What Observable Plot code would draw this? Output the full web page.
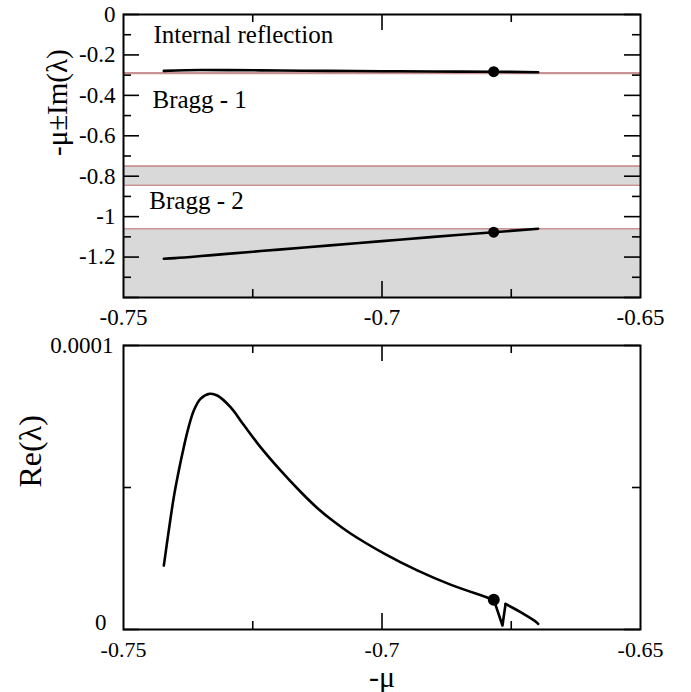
<!DOCTYPE html>
<html>
<head>
<meta charset="utf-8">
<script src="https://cdn.jsdelivr.net/npm/d3@7"></script>
<script src="https://cdn.jsdelivr.net/npm/@observablehq/plot@0.6"></script>
<style>
  body { margin: 0; background: #fff; }
  #wrap { position: relative; width: 691px; height: 692px; }
  #topPanel, #botPanel { position: absolute; left: 0; }
  #topPanel { top: 0; }
  #botPanel { top: 330px; }
  svg { display: block; }
  svg text { font-family: "Liberation Serif", serif; font-variant-numeric: normal; }
</style>
</head>
<body>
<div id="wrap"><div id="topPanel"></div><div id="botPanel"></div></div>
<script>
// ---- data ----
const xDomain = [-0.75, -0.65];
const xLabelTicks = [-0.75, -0.7, -0.65];
const xMidTicks = [-0.7];
const xMinorTicks = [-0.725, -0.675];

const yTopDomain = [-1.4, 0];
const yTopLabelTicks = [0, -0.2, -0.4, -0.6, -0.8, -1, -1.2];
const yTopMajorTicks = [0, -0.2, -0.4, -0.6, -0.8, -1, -1.2, -1.4];
const yTopMinorTicks = [-0.1, -0.3, -0.5, -0.7, -0.9, -1.1, -1.3];

// gray bands [top, bottom]
const bandTops = [-0.288, -0.75, -1.06];
const bandBottoms = [-0.292, -0.845, -1.4];

// upper branch of -mu + Im(lambda)
const branch1X = [-0.7422, -0.7380, -0.7350, -0.7300, -0.7200, -0.7100, -0.7000, -0.6900, -0.6784, -0.6698];
const branch1Y = [-0.279, -0.2755, -0.2745, -0.275, -0.277, -0.279, -0.2805, -0.282, -0.283, -0.2855];
// lower branch of -mu - Im(lambda)
const branch2X = [-0.7422, -0.7400, -0.7350, -0.7300, -0.7200, -0.7100, -0.7000, -0.6900, -0.6784, -0.6698];
const branch2Y = [-1.208, -1.205, -1.195, -1.184, -1.163, -1.142, -1.121, -1.100, -1.077, -1.060];

const markX = [-0.6784, -0.6784];
const markY = [-0.283, -1.077];

const labelTexts = ["Internal reflection", "Bragg - 1", "Bragg - 2"];
const labelX = [-0.7442, -0.7444, -0.745];
const labelY = [-0.102, -0.425, -0.921];

// bottom panel: Re(lambda)
const yBotDomain = [0, 0.0001];
const yBotLabelTicks = [0, 0.0001];
const yBotMinorTicks = [0.00005];

const reX = [-0.7422, -0.74124, -0.74027, -0.7393, -0.73834, -0.73737, -0.7364, -0.73511, -0.73331, -0.73188, -0.7293, -0.72673, -0.7235, -0.71963, -0.71576, -0.71253, -0.70932, -0.70609, -0.69965, -0.69319, -0.68675, -0.68031, -0.67838];
const reY = [2.25e-5, 3.49e-5, 4.66e-5, 5.6e-5, 6.42e-5, 7.15e-5, 7.71e-5, 8.12e-5, 8.3e-5, 8.24e-5, 7.83e-5, 7.2e-5, 6.42e-5, 5.6e-5, 4.85e-5, 4.28e-5, 3.8e-5, 3.38e-5, 2.68e-5, 2.08e-5, 1.58e-5, 1.17e-5, 1.05e-5];
const jagX = [-0.67838, -0.6767, -0.6761];
const jagY = [1.05e-5, 0.14e-5, 0.90e-5];
const tailX = [-0.6761, -0.6732, -0.6700, -0.6698];
const tailY = [0.90e-5, 0.61e-5, 0.24e-5, 0.20e-5];
const reMarkX = [-0.67838];
const reMarkY = [1.05e-5];

// ---- helpers ----
const serif = "Liberation Serif";
const W = 691, ML = 123, MR = 51;
const FW = W - ML - MR;
const pts = (xs, ys) => xs.map((x, i) => ({x, y: ys[i]}));
const MAJ = 16, MIN = 8;
const fmt = d => String(d);

function tickMarks(xMaj, xMin, yMaj, yMin, FH) {
  const o = {stroke: "black", strokeWidth: 1.6};
  return [
    Plot.ruleX(xMaj, {...o, x: d => d, insetBottom: FH - MAJ}),
    Plot.ruleX(xMaj, {...o, x: d => d, insetTop: FH - MAJ}),
    Plot.ruleX(xMin, {...o, x: d => d, insetBottom: FH - MIN}),
    Plot.ruleX(xMin, {...o, x: d => d, insetTop: FH - MIN}),
    Plot.ruleY(yMaj, {...o, y: d => d, insetRight: FW - MAJ}),
    Plot.ruleY(yMaj, {...o, y: d => d, insetLeft: FW - MAJ}),
    Plot.ruleY(yMin, {...o, y: d => d, insetRight: FW - MIN}),
    Plot.ruleY(yMin, {...o, y: d => d, insetLeft: FW - MIN})
  ];
}

// ---- top panel ----
const topH = 330, topMT = 14, topMB = 33;
const topFH = topH - topMT - topMB;
const bands = bandTops.map((t, i) => ({x1: xDomain[0], x2: xDomain[1], y1: t, y2: bandBottoms[i]}));
const bandEdges = bandTops.concat(bandBottoms.filter(v => v > yTopDomain[0]));

const topChart = Plot.plot({
  width: W, height: topH,
  marginLeft: ML, marginRight: MR, marginTop: topMT, marginBottom: topMB,
  style: {fontFamily: serif, fontSize: "24px", color: "black", background: "white"},
  x: {domain: xDomain},
  y: {domain: yTopDomain},
  marks: [
    Plot.rect(bands, {x1: "x1", x2: "x2", y1: "y1", y2: "y2", fill: "#d9d9d9"}),
    Plot.ruleY(bandEdges, {y: d => d, stroke: "#c99393", strokeWidth: 1.6}),
    Plot.line(pts(branch1X, branch1Y), {x: "x", y: "y", stroke: "black", strokeWidth: 2.6, curve: "catmull-rom"}),
    Plot.line(pts(branch2X, branch2Y), {x: "x", y: "y", stroke: "black", strokeWidth: 2.6, curve: "catmull-rom"}),
    Plot.dot(pts(markX, markY), {x: "x", y: "y", r: 5.5, fill: "black"}),
    Plot.text(labelTexts, {x: (d, i) => labelX[i], y: (d, i) => labelY[i], text: d => d, textAnchor: "start", fontSize: 25, fontFamily: serif, fill: "black"}),
    ...tickMarks(xMidTicks, xMinorTicks, yTopMajorTicks, yTopMinorTicks, topFH),
    Plot.axisX({ticks: xLabelTicks, tickSize: 0, tickPadding: 11, tickFormat: fmt, fontFamily: serif, fontVariant: "normal", fontSize: 23, label: null}),
    Plot.axisY({ticks: yTopLabelTicks, tickSize: 0, tickPadding: 8, tickFormat: fmt, fontFamily: serif, fontVariant: "normal", fontSize: 23, label: null}),
    Plot.text(["-μ±Im(λ)"], {frameAnchor: "left", lineAnchor: "middle", dx: -66, rotate: -90, text: d => d, fontSize: 29, fontFamily: serif, fill: "black"}),
    Plot.frame({stroke: "black", strokeWidth: 2})
  ]
});
document.getElementById("topPanel").appendChild(topChart);

// ---- bottom panel ----
const botH = 362, botMT = 15, botMB = 63;
const botFH = botH - botMT - botMB;
const botChart = Plot.plot({
  width: W, height: botH,
  marginLeft: ML, marginRight: MR, marginTop: botMT, marginBottom: botMB,
  style: {fontFamily: serif, fontSize: "24px", color: "black", background: "white"},
  x: {domain: xDomain},
  y: {domain: yBotDomain},
  marks: [
    Plot.line(pts(reX, reY), {x: "x", y: "y", stroke: "black", strokeWidth: 2.6, curve: "catmull-rom"}),
    Plot.line(pts(jagX, jagY), {x: "x", y: "y", stroke: "black", strokeWidth: 2.6}),
    Plot.line(pts(tailX, tailY), {x: "x", y: "y", stroke: "black", strokeWidth: 2.6, curve: "catmull-rom"}),
    Plot.dot(pts(reMarkX, reMarkY), {x: "x", y: "y", r: 6, fill: "black"}),
    ...tickMarks(xMidTicks, xMinorTicks, yBotLabelTicks, yBotMinorTicks, botFH),
    Plot.axisX({ticks: xLabelTicks, tickSize: 0, tickPadding: 12, tickFormat: fmt, fontFamily: serif, fontVariant: "normal", fontSize: 22, label: null}),
    Plot.axisY({ticks: [yBotLabelTicks[1]], tickSize: 0, tickPadding: 10, tickFormat: fmt, fontFamily: serif, fontVariant: "normal", fontSize: 23, label: null}),
    Plot.axisY({ticks: [yBotLabelTicks[0]], tickSize: 0, tickPadding: 17, dy: -7, tickFormat: fmt, fontFamily: serif, fontVariant: "normal", fontSize: 23, label: null}),
    Plot.text(["Re(λ)"], {frameAnchor: "left", lineAnchor: "middle", dx: -93, rotate: -90, text: d => d, fontSize: 32, fontFamily: serif, fill: "black"}),
    Plot.text(["-μ"], {frameAnchor: "bottom", lineAnchor: "middle", dy: 48, text: d => d, fontSize: 30, fontFamily: serif, fill: "black"}),
    Plot.frame({stroke: "black", strokeWidth: 2})
  ]
});
document.getElementById("botPanel").appendChild(botChart);
</script>
</body>
</html>
